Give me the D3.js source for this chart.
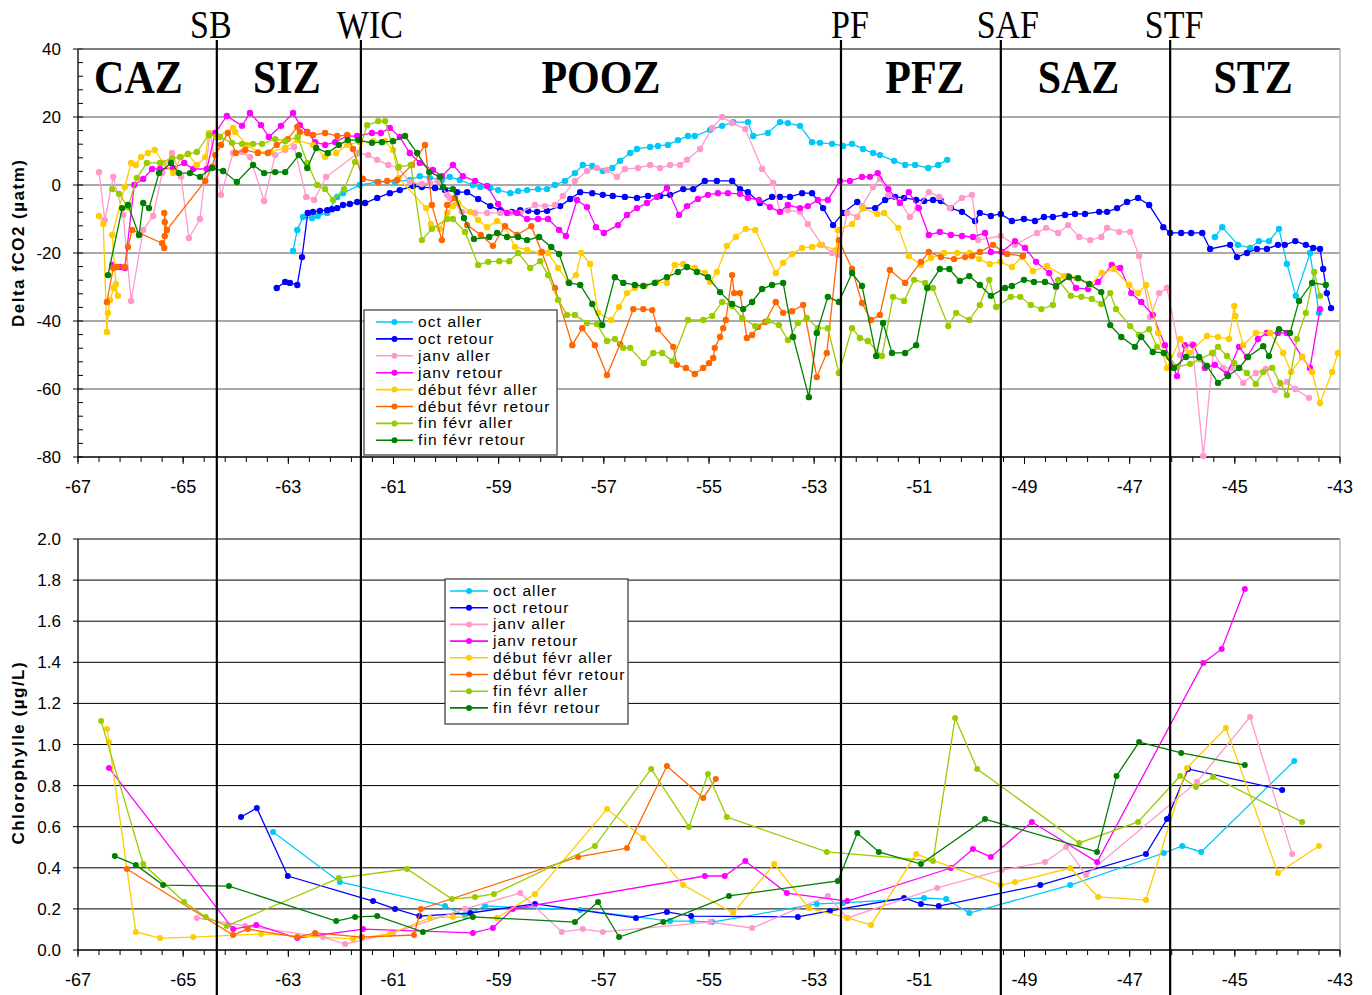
<!DOCTYPE html>
<html>
<head>
<meta charset="utf-8">
<script src="https://cdn.jsdelivr.net/npm/d3@7"></script>
<style>
body { margin: 0; background: #fff; }
text { font-family: Arial, "Liberation Sans", sans-serif; }
</style>
</head>
<body>
<div id="chart"></div>
<script>

// series names / colours (legend order)
var seriesNames = ['oct aller', 'oct retour', 'janv aller', 'janv retour',
    'début févr aller', 'début févr retour', 'fin févr aller', 'fin févr retour'];
var seriesColors = ['#00c8f8', '#0000ff', '#ff99cc', '#ff00ff',
    '#ffcc00', '#ff6600', '#99cc00', '#008000'];

// fronts and zones
var frontNames = ['SB', 'WIC', 'PF', 'SAF', 'STF'];
var frontLon = [-64.36, -61.62, -52.49, -49.45, -46.23];
var zoneNames = ['CAZ', 'SIZ', 'POOZ', 'PFZ', 'SAZ', 'STZ'];

// axis ticks
var xTicks = [-67, -65, -63, -61, -59, -57, -55, -53, -51, -49, -47, -45, -43];
var fco2Ticks = [40, 20, 0, -20, -40, -60, -80];
var chlTicks = [2.0, 1.8, 1.6, 1.4, 1.2, 1.0, 0.8, 0.6, 0.4, 0.2, 0.0];

// ---- Delta fCO2 (µatm) vs longitude, [lon, value]
var fco2OctAller = [[-62.91,-19.4],[-62.83,-13.2],[-62.72,-9.4],[-62.55,-9.7],[-62.44,-9.1],[-62.26,-8.2],[-62.07,-3.5],[-61.96,-2.4],
    [-61.64,0],[-61.31,0.9],[-60.97,0.9],[-60.69,1.5],[-60.5,2.6],[-60.31,2.1],[-60.08,1.5],[-59.93,2.4],[-59.74,1.5],[-59.49,0],
    [-59.35,-0.6],[-59.16,-0.9],[-59.01,-1.5],[-58.78,-2.4],[-58.63,-1.8],[-58.46,-1.5],[-58.25,-1.2],[-58.08,-1.2],[-57.93,0],
    [-57.74,1.2],[-57.55,3.5],[-57.4,5.9],[-57.22,5.6],[-57.02,4.1],[-56.84,5.0],[-56.69,7.1],[-56.5,9.4],[-56.37,10.6],[-56.12,11.2],
    [-55.97,11.5],[-55.78,11.8],[-55.59,13.2],[-55.4,14.4],[-55.27,14.4],[-54.98,16.2],[-54.75,17.4],[-54.54,18.5],[-54.26,18.5],
    [-54.16,14.4],[-53.88,15.3],[-53.65,18.5],[-53.5,18.2],[-53.27,17.4],[-53.04,12.6],[-52.89,12.4],[-52.66,12.1],[-52.45,11.5],
    [-52.28,12.1],[-52.07,10.6],[-51.88,9.4],[-51.75,8.8],[-51.48,7.1],[-51.27,5.9],[-51.08,5.9],[-50.83,5.0],[-50.64,5.9],[-50.47,7.4],
    null,
    [-45.38,-15.3],[-45.24,-12.4],[-44.94,-17.6],[-44.71,-18.5],[-44.54,-16.5],[-44.35,-16.5],[-44.16,-12.9],[-44.01,-23.2],
    [-43.84,-32.6],[-43.57,-20.0],[-43.4,-37.6]];

var fco2OctRetour = [[-63.22,-30.3],[-63.06,-28.5],[-62.97,-28.8],[-62.83,-29.4],[-62.74,-21.2],[-62.63,-8.2],[-62.53,-7.9],[-62.4,-7.6],
    [-62.26,-7.4],[-62.17,-7.1],[-62.07,-6.8],[-61.96,-5.9],[-61.83,-5.6],[-61.69,-5.0],[-61.54,-5.3],[-61.31,-3.8],[-61.07,-2.4],
    [-60.88,-1.5],[-60.63,-0.3],[-60.46,-0.6],[-60.21,-0.9],[-60.02,-1.5],[-59.79,-2.1],[-59.6,-2.1],[-59.39,-4.1],[-59.16,-6.2],
    [-58.97,-7.4],[-58.75,-7.9],[-58.59,-7.4],[-58.44,-7.6],[-58.27,-7.9],[-58.08,-7.6],[-57.83,-6.2],[-57.64,-4.1],[-57.45,-2.1],
    [-57.22,-2.4],[-57.02,-2.9],[-56.83,-3.2],[-56.6,-3.5],[-56.37,-3.8],[-56.16,-3.2],[-55.93,-3.2],[-55.74,-2.9],[-55.49,-1.2],
    [-55.3,-1.2],[-55.08,1.2],[-54.85,1.2],[-54.56,1.2],[-54.41,-1.2],[-54.26,-2.1],[-54.03,-5.3],[-53.8,-3.5],[-53.65,-3.5],
    [-53.46,-3.5],[-53.23,-2.4],[-53.04,-2.4],[-52.83,-6.8],[-52.64,-11.8],[-52.45,-8.2],[-52.18,-5.0],[-52.07,-6.8],[-51.84,-6.8],
    [-51.65,-4.4],[-51.46,-3.5],[-51.29,-3.8],[-51.06,-4.4],[-50.91,-4.7],[-50.74,-4.4],[-50.59,-4.7],[-50.4,-6.8],[-50.19,-7.9],
    [-49.94,-10.6],[-49.85,-8.2],[-49.64,-9.1],[-49.45,-8.5],[-49.24,-10.6],[-49.01,-10.0],[-48.8,-10.6],[-48.63,-9.4],[-48.46,-9.4],
    [-48.23,-8.8],[-48.04,-8.5],[-47.85,-8.5],[-47.58,-7.9],[-47.43,-7.9],[-47.24,-6.8],[-47.05,-5.0],[-46.84,-3.8],[-46.63,-5.9],
    [-46.36,-12.4],[-46.23,-14.1],[-46.02,-14.1],[-45.83,-14.1],[-45.62,-14.1],[-45.47,-18.8],[-45.09,-17.6],[-44.96,-21.2],
    [-44.77,-20.0],[-44.58,-18.8],[-44.39,-18.8],[-44.18,-17.6],[-44.05,-17.6],[-43.85,-16.5],[-43.65,-17.6],[-43.51,-18.5],
    [-43.38,-18.8],[-43.32,-24.7],[-43.25,-31.8],[-43.17,-36.2]];

var fco2JanvAller = [[-66.6,3.8],[-66.49,-10.3],[-66.33,2.4],[-66.14,-8.8],[-65.99,-34.1],[-65.76,-13.2],[-65.57,-9.1],[-65.4,3.5],
    [-65.21,9.4],[-65.04,2.4],[-64.89,-15.6],[-64.68,-10.0],[-64.49,15.3],[-64.28,-2.9],[-64.05,9.4],[-63.88,9.7],[-63.73,8.2],
    [-63.46,-4.7],[-63.25,8.8],[-63.06,10.3],[-62.89,11.2],[-62.66,-3.5],[-62.51,-4.4],[-62.28,2.4],[-61.67,9.4],[-61.48,8.8],
    [-61.31,7.4],[-61.1,5.9],[-60.91,5.0],[-60.69,0.9],[-60.46,0.3],[-60.31,0.6],[-60.15,1.2],[-59.98,-2.9],[-59.93,-3.8],
    [-59.7,-7.9],[-59.45,-8.2],[-59.22,-8.2],[-58.97,-8.2],[-58.78,-8.2],[-58.59,-8.2],[-58.31,-5.9],[-58.12,-6.2],[-57.93,-5.9],
    [-57.78,-3.2],[-57.55,1.2],[-57.32,4.1],[-57.13,5.0],[-56.94,4.4],[-56.75,2.4],[-56.6,4.7],[-56.35,5.0],[-56.12,5.9],
    [-55.93,5.0],[-55.74,5.9],[-55.55,5.9],[-55.42,7.4],[-55.17,10.6],[-54.94,16.8],[-54.75,20.0],[-54.56,18.2],[-54.31,16.5],
    [-53.99,4.7],[-53.78,0.6],[-53.65,-7.9],[-53.5,-7.4],[-53.27,-7.9],[-53.12,-11.5],[-52.85,-17.6],[-52.66,-20.0],[-52.55,-20.6],
    [-52.37,-8.2],[-52.18,-9.4],[-52.09,-6.2],[-51.88,-0.6],[-51.75,1.8],[-51.59,-2.9],[-51.37,-5.0],[-51.18,-9.4],[-51.04,-6.8],
    [-50.82,-2.1],[-50.62,-3.5],[-50.42,-6.8],[-50.19,-3.8],[-50.0,-2.9],[-49.88,-16.2],[-49.45,-15.0],[-49.18,-17.6],[-48.76,-14.1],
    [-48.59,-12.6],[-48.36,-14.1],[-48.17,-11.8],[-47.96,-15.3],[-47.75,-16.2],[-47.54,-15.3],[-47.43,-12.6],[-47.2,-13.8],
    [-46.99,-13.8],[-46.82,-20.9],[-46.61,-38.8],[-46.44,-31.8],[-46.29,-30.3],[-46.04,-50.0],[-45.81,-46.8],[-45.6,-79.7],
    [-45.41,-49.4],[-45.22,-53.8],[-45.05,-53.8],[-44.84,-58.2],[-44.6,-55.3],[-44.41,-54.1],[-44.24,-60.3],[-44.01,-57.9],
    [-43.85,-60.0],[-43.59,-62.6]];

var fco2JanvRetour = [[-66.35,-23.5],[-66.2,-24.1],[-66.11,-24.4],[-65.93,0.0],[-65.76,1.8],[-65.59,4.7],[-65.44,4.7],[-65.19,5.0],
    [-64.98,6.5],[-64.81,4.7],[-64.55,4.7],[-64.39,15.3],[-64.17,20.3],[-63.88,17.4],[-63.73,21.2],[-63.52,17.6],[-63.37,14.1],
    [-63.14,17.4],[-62.91,21.2],[-62.78,17.6],[-62.64,15.6],[-62.49,12.6],[-62.3,11.8],[-62.11,12.6],[-61.88,14.4],[-61.69,14.4],
    [-61.41,15.3],[-61.24,15.3],[-61.07,16.8],[-60.88,14.1],[-60.69,9.4],[-60.5,6.5],[-60.25,4.4],[-60.08,2.6],[-59.87,5.9],
    [-59.68,2.6],[-59.45,1.2],[-59.22,-0.3],[-59.01,-5.6],[-58.84,-8.2],[-58.65,-8.2],[-58.46,-10.0],[-58.25,-10.0],[-58.06,-10.0],
    [-57.85,-13.2],[-57.72,-15.0],[-57.51,-4.4],[-57.32,-6.5],[-57.15,-12.4],[-57.0,-14.1],[-56.73,-11.8],[-56.56,-8.8],[-56.37,-6.8],
    [-56.18,-5.3],[-55.99,-3.5],[-55.8,-0.9],[-55.57,-8.8],[-55.42,-6.2],[-55.21,-4.1],[-55.02,-2.9],[-54.83,-2.4],[-54.64,-2.4],
    [-54.41,-2.6],[-54.26,-3.8],[-54.05,-4.4],[-53.84,-6.5],[-53.65,-7.9],[-53.5,-5.9],[-53.27,-6.8],[-53.12,-6.2],[-52.93,-4.4],
    [-52.74,-4.4],[-52.51,1.2],[-52.32,1.2],[-52.09,2.4],[-51.94,2.4],[-51.79,3.5],[-51.59,-1.2],[-51.37,-5.3],[-51.2,-2.1],
    [-51.01,-6.8],[-50.82,-14.7],[-50.61,-13.8],[-50.4,-14.7],[-50.19,-15.0],[-49.98,-15.3],[-49.75,-14.1],[-49.64,-19.7],
    [-49.43,-19.7],[-49.18,-16.5],[-48.99,-18.5],[-48.78,-22.6],[-48.53,-25.9],[-48.4,-30.0],[-48.17,-26.8],[-48.02,-30.3],
    [-47.79,-30.6],[-47.6,-28.5],[-47.34,-23.5],[-47.18,-24.4],[-46.97,-31.8],[-46.78,-34.4],[-46.56,-38.2],[-46.33,-47.1],
    [-46.1,-56.2],[-45.95,-47.1],[-45.79,-47.1],[-45.57,-53.8],[-45.38,-52.9],[-45.15,-55.6],[-44.92,-47.6],[-44.77,-50.6],
    [-44.56,-45.3],[-44.39,-43.5],[-44.18,-43.5],[-44.01,-43.5],[-43.72,-50.6],[-43.57,-53.8],[-43.38,-36.5]];

var fco2DebutAller = [[-66.6,-9.1],[-66.52,-11.5],[-66.45,-43.2],[-66.43,-37.6],[-66.39,-33.8],[-66.32,-30.3],[-66.24,-32.6],
    [-66.28,-29.1],[-66.35,-14.7],[-66.11,-0.6],[-65.99,6.5],[-65.9,5.9],[-65.8,8.2],[-65.67,9.4],[-65.54,10.3],[-65.38,6.5],
    [-65.19,3.5],[-65.04,8.2],[-64.91,9.1],[-64.74,5.9],[-64.58,8.2],[-64.51,15.3],[-64.36,14.1],[-64.05,16.8],[-64.01,15.6],
    [-63.79,11.8],[-63.58,9.7],[-63.35,9.7],[-63.06,10.9],[-62.83,13.2],[-62.53,11.8],[-62.3,8.2],[-62.09,9.4],[-61.88,11.8],
    [-61.64,12.6],[-61.39,12.9],[-61.16,12.9],[-61.01,10.3],[-60.9,2.1],[-60.38,-6.8],[-60.29,-11.5],[-60.12,-12.9],[-59.98,-8.2],
    [-59.87,-6.2],[-59.77,-5.3],[-59.54,-7.9],[-59.39,-10.3],[-59.22,-12.4],[-59.03,-10.6],[-58.88,-12.1],[-58.69,-18.2],
    [-58.46,-19.1],[-58.21,-20.0],[-58.06,-20.0],[-57.87,-24.4],[-57.68,-28.5],[-57.53,-26.5],[-57.43,-20.0],[-57.26,-23.2],
    [-57.11,-37.6],[-56.86,-39.7],[-56.71,-35.9],[-56.56,-31.8],[-56.41,-30.3],[-56.22,-29.7],[-55.99,-28.5],[-55.8,-28.8],
    [-55.65,-23.5],[-55.49,-23.2],[-55.27,-24.4],[-55.08,-25.9],[-54.98,-28.5],[-54.85,-25.6],[-54.66,-17.9],[-54.49,-15.3],
    [-54.3,-12.9],[-54.12,-13.2],[-53.73,-25.9],[-53.59,-22.9],[-53.42,-20.3],[-53.23,-18.5],[-53.04,-18.2],[-52.89,-17.6],
    [-52.58,-19.1],[-52.55,-13.2],[-52.28,-11.5],[-52.07,-6.8],[-51.8,-8.5],[-51.67,-8.2],[-51.4,-12.6],[-51.2,-20.9],[-50.97,-23.5],
    [-50.78,-21.5],[-50.53,-20.0],[-50.28,-20.0],[-50.04,-20.0],[-49.86,-21.8],[-49.66,-23.2],[-49.46,-22.6],[-49.24,-24.1],
    [-49.05,-21.2],[-48.84,-25.3],[-48.57,-23.8],[-48.25,-26.8],[-48.02,-27.4],[-47.75,-29.4],[-47.53,-25.9],[-47.3,-24.7],
    [-47.01,-29.4],[-46.84,-31.8],[-46.69,-29.4],[-46.46,-43.5],[-46.29,-53.8],[-46.04,-45.3],[-45.87,-49.4],[-45.53,-44.4],
    [-45.32,-44.7],[-45.11,-45.3],[-45.01,-35.6],[-44.99,-38.5],[-44.84,-47.1],[-44.6,-43.5],[-44.33,-43.5],[-44.08,-49.4],
    [-43.93,-55.0],[-43.72,-50.6],[-43.53,-55.0],[-43.38,-64.1],[-43.15,-55.0],[-43.04,-49.4]];

var fco2DebutRetour = [[-66.45,-34.4],[-66.33,-24.4],[-66.26,-24.1],[-66.11,-24.1],[-66.05,-18.2],[-65.97,-13.2],[-65.4,-17.1],
    [-65.36,-18.5],[-65.35,-15.0],[-65.35,-10.9],[-65.36,-8.2],[-65.31,-13.2],[-64.58,1.2],[-64.45,5.3],[-64.39,8.8],[-64.28,11.8],
    [-64.15,15.3],[-64.0,9.4],[-63.82,10.3],[-63.58,9.4],[-63.39,9.4],[-63.22,11.8],[-63.01,13.5],[-62.83,17.1],[-62.78,15.6],
    [-62.64,15.3],[-62.53,14.7],[-62.3,15.3],[-62.07,14.4],[-61.88,14.7],[-61.77,10.6],[-61.58,1.8],[-61.29,0.9],[-61.12,1.2],
    [-60.93,1.5],[-60.65,5.9],[-60.4,11.8],[-60.27,-5.9],[-60.08,-16.2],[-59.98,-5.9],[-59.83,-3.8],[-59.6,-11.8],[-59.34,-14.7],
    [-59.11,-17.9],[-58.88,-12.1],[-58.65,-14.7],[-58.38,-12.1],[-58.18,-19.7],[-57.93,-30.3],[-57.6,-47.1],[-57.41,-42.1],
    [-57.17,-47.1],[-56.94,-55.9],[-56.69,-46.8],[-56.44,-36.5],[-56.25,-36.5],[-56.08,-36.8],[-55.97,-42.4],[-55.68,-47.6],
    [-55.61,-52.9],[-55.44,-53.8],[-55.27,-55.6],[-55.11,-53.8],[-55.0,-52.4],[-54.92,-50.9],[-54.89,-47.9],[-54.79,-44.7],
    [-54.73,-42.1],[-54.68,-39.7],[-54.56,-26.5],[-54.52,-31.8],[-54.41,-31.8],[-54.28,-45.0],[-54.18,-44.1],[-54.07,-41.8],
    [-53.93,-40.3],[-53.73,-34.4],[-53.59,-37.6],[-53.42,-37.1],[-53.21,-35.3],[-52.95,-56.5],[-52.76,-49.4],[-52.53,-16.2],
    [-52.28,-24.7],[-52.09,-34.7],[-51.92,-39.7],[-51.75,-38.2],[-51.56,-25.0],[-51.27,-28.8],[-50.97,-22.6],[-50.82,-19.7],
    [-50.59,-21.2],[-50.34,-21.8],[-50.13,-21.2],[-50.0,-20.9],[-49.85,-19.7],[-49.6,-17.6],[-49.33,-20.3],[-49.03,-20.9]];

var fco2FinAller = [[-66.35,-1.2],[-66.22,-2.6],[-66.05,-6.5],[-65.88,2.1],[-65.69,6.5],[-65.44,6.5],[-65.21,7.9],[-65.06,8.2],
    [-64.91,9.1],[-64.74,9.7],[-64.51,14.7],[-64.3,14.1],[-64.07,12.4],[-63.88,12.1],[-63.67,12.1],[-63.5,12.1],[-63.25,13.5],
    [-63.06,12.9],[-62.82,14.1],[-62.64,6.5],[-62.45,0.0],[-62.3,-1.2],[-62.15,-4.4],[-61.94,-1.2],[-61.73,6.8],[-61.5,17.6],
    [-61.29,18.8],[-61.16,18.8],[-60.9,5.3],[-60.67,5.9],[-60.46,-16.2],[-60.27,-12.9],[-59.98,-10.0],[-59.87,-10.0],[-59.64,-13.8],
    [-59.39,-23.5],[-59.2,-22.6],[-58.99,-22.4],[-58.8,-22.4],[-58.63,-20.0],[-58.4,-24.4],[-58.21,-22.4],[-58.06,-26.5],
    [-57.87,-33.8],[-57.7,-38.2],[-57.55,-38.2],[-57.32,-40.6],[-57.13,-40.9],[-56.94,-45.9],[-56.79,-45.3],[-56.63,-47.9],
    [-56.5,-47.9],[-56.24,-52.4],[-56.06,-49.4],[-55.89,-49.4],[-55.7,-51.8],[-55.4,-39.7],[-55.11,-39.7],[-54.94,-38.5],
    [-54.75,-34.4],[-54.56,-35.6],[-54.37,-39.1],[-54.12,-41.5],[-53.88,-40.0],[-53.67,-41.2],[-53.5,-45.6],[-53.31,-40.6],
    [-53.14,-39.1],[-52.93,-42.1],[-52.74,-42.1],[-52.53,-55.3],[-52.28,-42.1],[-52.13,-45.0],[-51.98,-45.9],[-51.71,-50.3],
    [-51.5,-32.9],[-51.29,-34.1],[-51.1,-27.9],[-50.89,-28.8],[-50.74,-30.3],[-50.45,-41.5],[-50.3,-37.6],[-50.05,-39.7],
    [-49.85,-35.3],[-49.67,-27.9],[-49.54,-35.9],[-49.26,-32.9],[-49.08,-32.9],[-48.88,-35.3],[-48.68,-36.5],[-48.46,-35.3],
    [-48.36,-27.9],[-48.12,-32.6],[-47.92,-32.9],[-47.72,-33.5],[-47.54,-35.0],[-47.37,-31.8],[-47.26,-36.5],[-46.99,-41.5],
    [-46.82,-44.1],[-46.63,-42.4],[-46.48,-47.6],[-46.25,-50.6],[-46.1,-53.5],[-45.85,-52.6],[-45.66,-51.2],[-45.43,-49.4],
    [-45.32,-47.6],[-45.15,-50.3],[-45.01,-52.4],[-44.77,-55.3],[-44.6,-58.5],[-44.46,-55.0],[-44.29,-53.8],[-44.14,-58.2],
    [-44.01,-61.8],[-43.82,-45.3],[-43.65,-37.6],[-43.49,-25.6],[-43.38,-32.6]];

var fco2FinRetour = [[-66.43,-26.5],[-66.16,-6.8],[-66.05,-5.9],[-65.84,-14.7],[-65.76,-5.3],[-65.65,-6.8],[-65.46,3.5],[-65.23,6.5],
    [-65.08,3.5],[-64.87,3.5],[-64.68,2.4],[-64.45,5.0],[-64.24,4.1],[-63.98,0.9],[-63.67,5.9],[-63.46,3.5],[-63.25,3.8],[-63.06,3.8],
    [-62.8,8.8],[-62.64,5.0],[-62.47,10.9],[-62.25,9.4],[-62.04,11.8],[-61.87,13.2],[-61.67,13.2],[-61.41,12.4],[-61.22,12.6],
    [-61.01,12.9],[-60.78,14.4],[-60.55,9.4],[-60.32,3.8],[-60.12,2.4],[-60.06,-0.6],[-59.87,-1.2],[-59.66,-9.7],[-59.47,-15.9],
    [-59.18,-15.3],[-59.03,-14.1],[-58.84,-15.3],[-58.63,-15.3],[-58.46,-16.2],[-58.23,-15.3],[-58.0,-18.2],[-57.85,-20.3],
    [-57.66,-28.8],[-57.45,-29.4],[-57.22,-35.0],[-57.03,-41.2],[-56.79,-27.1],[-56.63,-28.8],[-56.41,-29.4],[-56.25,-29.7],
    [-56.03,-28.8],[-55.8,-27.1],[-55.59,-25.6],[-55.42,-24.1],[-55.23,-25.6],[-55.02,-27.1],[-54.79,-31.5],[-54.56,-35.0],
    [-54.35,-36.5],[-54.18,-34.4],[-53.99,-30.6],[-53.8,-29.4],[-53.59,-28.8],[-53.4,-44.7],[-53.1,-62.4],[-52.95,-43.5],
    [-52.74,-32.9],[-52.53,-34.4],[-52.28,-25.9],[-52.09,-29.7],[-51.82,-50.3],[-51.69,-40.6],[-51.52,-49.4],[-51.27,-49.4],
    [-51.06,-47.1],[-50.85,-30.3],[-50.61,-24.7],[-50.43,-24.7],[-50.23,-28.2],[-50.05,-26.8],[-49.85,-29.4],[-49.64,-32.6],
    [-49.37,-30.3],[-49.24,-29.7],[-49.01,-27.9],[-48.82,-28.5],[-48.61,-28.5],[-48.4,-29.7],[-48.15,-27.1],[-47.98,-27.4],
    [-47.77,-29.1],[-47.54,-31.5],[-47.37,-41.2],[-47.16,-44.7],[-46.9,-47.6],[-46.78,-44.7],[-46.56,-49.1],[-46.35,-49.4],
    [-46.16,-53.8],[-45.93,-50.6],[-45.68,-50.6],[-45.53,-53.2],[-45.32,-58.2],[-45.13,-56.2],[-44.92,-53.8],[-44.75,-50.6],
    [-44.46,-47.4],[-44.35,-50.3],[-44.16,-42.4],[-43.95,-43.5],[-43.78,-34.1],[-43.53,-28.8],[-43.27,-29.4]];

// ---- Chlorophylle (µg/L) vs longitude, [lon, value]
var chlOctAller = [[-63.29,0.574],[-62.02,0.331],[-60.02,0.214],[-59.64,0.165],[-59.26,0.214],[-57.45,0.195],[-55.74,0.141],
    [-55.32,0.141],[-54.94,0.136],[-52.95,0.224],[-52.45,0.229],[-50.91,0.253],[-50.49,0.248],[-50.05,0.180],[-48.13,0.316],
    [-46.35,0.472],[-46.0,0.506],[-45.64,0.477],[-43.87,0.920]];
var chlOctRetour = [[-63.9,0.647],[-63.6,0.691],[-63.01,0.360],[-61.39,0.238],[-60.97,0.200],[-60.51,0.165],[-59.54,0.180],
    [-58.31,0.224],[-56.39,0.156],[-55.8,0.185],[-55.34,0.165],[-53.31,0.161],[-52.7,0.190],[-51.29,0.253],[-50.97,0.224],
    [-50.63,0.214],[-48.7,0.316],[-46.69,0.467],[-46.29,0.637],[-45.89,0.881],[-44.1,0.779]];
var chlJanvAller = [[-64.74,0.156],[-63.82,0.117],[-62.34,0.063],[-61.92,0.029],[-61.01,0.083],[-59.64,0.200],[-58.59,0.277],
    [-57.8,0.088],[-57.4,0.102],[-57.02,0.088],[-54.98,0.136],[-54.18,0.107],[-52.74,0.263],[-52.37,0.156],[-50.66,0.302],
    [-49.43,0.389],[-48.61,0.428],[-48.21,0.501],[-47.83,0.365],[-45.72,0.818],[-44.71,1.134],[-43.91,0.467]];
var chlJanvRetour = [[-66.41,0.886],[-64.05,0.102],[-63.61,0.122],[-62.83,0.058],[-61.58,0.102],[-59.49,0.083],[-59.11,0.107],
    [-58.73,0.200],[-55.08,0.360],[-54.7,0.360],[-54.31,0.433],[-53.52,0.277],[-52.37,0.238],[-50.4,0.399],[-49.98,0.491],
    [-49.64,0.453],[-48.86,0.623],[-47.62,0.428],[-45.6,1.397],[-45.25,1.465],[-44.81,1.757]];
var chlDebutAller = [[-66.45,1.075],[-66.41,1.012],[-65.9,0.088],[-65.44,0.058],[-64.81,0.063],[-63.52,0.078],[-61.77,0.054],
    [-61.07,0.078],[-60.31,0.156],[-59.87,0.161],[-59.03,0.156],[-58.31,0.273],[-56.94,0.686],[-56.25,0.545],[-55.49,0.316],
    [-54.54,0.180],[-53.76,0.418],[-53.1,0.204],[-52.37,0.156],[-51.92,0.122],[-51.06,0.467],[-49.45,0.316],[-49.18,0.331],
    [-48.13,0.399],[-47.6,0.258],[-46.69,0.243],[-45.91,0.886],[-45.17,1.080],[-44.18,0.375],[-43.4,0.506]];
var chlDebutRetour = [[-66.07,0.394],[-64.05,0.073],[-63.77,0.102],[-62.83,0.063],[-62.49,0.083],[-61.6,0.063],[-60.61,0.073],
    [-60.48,0.200],[-57.49,0.453],[-56.56,0.496],[-55.8,0.895],[-55.11,0.740],[-54.87,0.832]];
var chlFinAller = [[-66.56,1.114],[-65.76,0.418],[-64.98,0.234],[-64.57,0.161],[-64.17,0.117],[-62.04,0.350],[-60.74,0.394],
    [-59.89,0.248],[-59.45,0.258],[-59.09,0.273],[-57.17,0.506],[-56.1,0.881],[-55.38,0.599],[-55.02,0.856],[-54.66,0.647],
    [-52.76,0.477],[-50.74,0.433],[-50.32,1.129],[-49.9,0.881],[-47.96,0.521],[-46.84,0.623],[-46.04,0.847],[-45.74,0.793],
    [-45.41,0.842],[-43.72,0.623]];
var chlFinRetour = [[-66.3,0.457],[-65.9,0.414],[-65.38,0.316],[-64.13,0.311],[-62.09,0.141],[-61.73,0.161],[-61.31,0.165],
    [-60.44,0.088],[-59.49,0.161],[-57.55,0.136],[-57.11,0.234],[-56.71,0.063],[-55.87,0.136],[-54.62,0.263],[-52.55,0.336],
    [-52.18,0.569],[-51.77,0.477],[-50.97,0.418],[-49.75,0.637],[-47.62,0.477],[-47.25,0.847],[-46.82,1.012],[-46.02,0.959],
    [-44.81,0.900]];

var fco2Series = [fco2OctAller, fco2OctRetour, fco2JanvAller, fco2JanvRetour,
    fco2DebutAller, fco2DebutRetour, fco2FinAller, fco2FinRetour];
var chlSeries = [chlOctAller, chlOctRetour, chlJanvAller, chlJanvRetour,
    chlDebutAller, chlDebutRetour, chlFinAller, chlFinRetour];

var width = 1372, height = 995;
var svg = d3.select('#chart').append('svg')
    .attr('width', width)
    .attr('height', height);

var x = d3.scaleLinear().domain([-67, -43]).range([78, 1340]);
var yTop = d3.scaleLinear().domain([-80, 40]).range([457, 49]);
var yBot = d3.scaleLinear().domain([0, 2]).range([950, 539]);

function range(a, b, step) {
    var out = [];
    for (var v = a; v <= b + 1e-9; v += step) out.push(+v.toFixed(4));
    return out;
}

function drawPanel(y, yTicks, yFmt, gridColor, data, r, minorY, legendBox) {
    var g = svg.append('g');
    var x0 = x.range()[0], x1 = x.range()[1];
    var yb = y.range()[0], yt = y.range()[1];

    // grid
    g.selectAll('.grid').data(yTicks.filter(function (d) { return y(d) < yb - 1; }))
        .enter().append('line')
        .attr('x1', x0).attr('x2', x1)
        .attr('y1', function (d) { return y(d); })
        .attr('y2', function (d) { return y(d); })
        .attr('stroke', gridColor).attr('stroke-width', 1);
    // right border
    g.append('line').attr('x1', x1).attr('x2', x1).attr('y1', yt).attr('y2', yb)
        .attr('stroke', '#b8b8b8').attr('stroke-width', 1.5);

    // y axis
    g.append('line').attr('x1', x0).attr('x2', x0).attr('y1', yt).attr('y2', yb)
        .attr('stroke', '#000').attr('stroke-width', 1.3);
    g.selectAll('.ytick').data(yTicks).enter().append('line')
        .attr('x1', x0 - 5).attr('x2', x0)
        .attr('y1', function (d) { return y(d); })
        .attr('y2', function (d) { return y(d); })
        .attr('stroke', '#000');
    if (minorY) {
        g.selectAll('.ymin').data(range(y.domain()[0], y.domain()[1], minorY)).enter().append('line')
            .attr('x1', x0).attr('x2', x0 + 5)
            .attr('y1', function (d) { return y(d); })
            .attr('y2', function (d) { return y(d); })
            .attr('stroke', '#000');
    }
    g.selectAll('.ylab').data(yTicks).enter().append('text')
        .attr('x', 61).attr('y', function (d) { return y(d) + 6; })
        .attr('text-anchor', 'end').attr('font-size', 17)
        .text(yFmt);

    // x axis
    g.append('line').attr('x1', x0).attr('x2', x1).attr('y1', yb).attr('y2', yb)
        .attr('stroke', '#000').attr('stroke-width', 1.3);
    g.selectAll('.xmin').data(range(-67, -43, 0.4)).enter().append('line')
        .attr('x1', function (d) { return x(d); })
        .attr('x2', function (d) { return x(d); })
        .attr('y1', yb).attr('y2', yb + 5)
        .attr('stroke', '#000');
    g.selectAll('.xtick').data(xTicks).enter().append('line')
        .attr('x1', function (d) { return x(d); })
        .attr('x2', function (d) { return x(d); })
        .attr('y1', yb).attr('y2', yb + 7)
        .attr('stroke', '#000');
    g.selectAll('.xlab').data(xTicks).enter().append('text')
        .attr('x', function (d) { return x(d); })
        .attr('y', yb + 36)
        .attr('text-anchor', 'middle').attr('font-size', 18)
        .text(function (d) { return d; });

    // series
    var line = d3.line()
        .defined(function (d) { return d !== null; })
        .x(function (d) { return x(d[0]); })
        .y(function (d) { return y(d[1]); });
    data.forEach(function (s, i) {
        g.append('path').datum(s)
            .attr('d', line)
            .attr('fill', 'none')
            .attr('stroke', seriesColors[i])
            .attr('stroke-width', 1.3);
        g.selectAll('.pt' + i).data(s.filter(function (d) { return d !== null; }))
            .enter().append('circle')
            .attr('cx', function (d) { return x(d[0]); })
            .attr('cy', function (d) { return y(d[1]); })
            .attr('r', r)
            .attr('fill', seriesColors[i]);
    });

    // legend
    var lg = g.append('g');
    lg.append('rect')
        .attr('x', legendBox.x).attr('y', legendBox.y)
        .attr('width', legendBox.w).attr('height', legendBox.h)
        .attr('fill', '#fff').attr('stroke', '#444').attr('stroke-width', 1.3);
    seriesNames.forEach(function (name, i) {
        var ly = legendBox.y + 12 + i * legendBox.step;
        lg.append('line')
            .attr('x1', legendBox.x + legendBox.l0).attr('x2', legendBox.x + legendBox.l1)
            .attr('y1', ly).attr('y2', ly)
            .attr('stroke', seriesColors[i]).attr('stroke-width', 1.6);
        lg.append('circle').attr('cx', legendBox.x + (legendBox.l0 + legendBox.l1) / 2).attr('cy', ly).attr('r', 3)
            .attr('fill', seriesColors[i]);
        lg.append('text').attr('x', legendBox.x + legendBox.tx).attr('y', ly + 5)
            .attr('font-size', 15.5).attr('fill', '#000')
            .style('letter-spacing', '1.1px')
            .text(name);
    });
    return g;
}

drawPanel(yTop, fco2Ticks, function (d) { return d; }, '#555', fco2Series, 3.2, 4,
    {x: 364, y: 310, w: 193, h: 145, step: 16.9, l0: 12, l1: 49, tx: 54});
drawPanel(yBot, chlTicks, function (d) { return d.toFixed(1); }, '#000', chlSeries, 3, null,
    {x: 445, y: 579, w: 183, h: 145, step: 16.7, l0: 5, l1: 43, tx: 48});

// top border of the fCO2 plot
svg.append('line').attr('x1', 78).attr('x2', 1340).attr('y1', yTop(40)).attr('y2', yTop(40))
    .attr('stroke', '#555');

// front lines through both panels
svg.selectAll('.front').data(frontLon).enter().append('line')
    .attr('x1', function (d) { return x(d); })
    .attr('x2', function (d) { return x(d); })
    .attr('y1', 40).attr('y2', height)
    .attr('stroke', '#000').attr('stroke-width', 2.2);

var frontDx = [-6, 9, 9, 7, 4];
svg.selectAll('.flab').data(frontNames).enter().append('text')
    .attr('transform', function (d, i) {
        return 'translate(' + (x(frontLon[i]) + frontDx[i]) + ',38) scale(1,1.2)';
    })
    .attr('text-anchor', 'middle')
    .style('font-family', '"Liberation Serif", "Times New Roman", serif')
    .attr('font-size', 34)
    .text(function (d) { return d; });

var zoneEdges = [-67].concat(frontLon).concat([-43]);
var zoneDx = [-9, -2, 0, 4, -7, -2];
svg.selectAll('.zlab').data(zoneNames).enter().append('text')
    .attr('transform', function (d, i) {
        var cx = (x(zoneEdges[i]) + x(zoneEdges[i + 1])) / 2 + zoneDx[i];
        return 'translate(' + cx + ',93) scale(1,1.1)';
    })
    .attr('text-anchor', 'middle')
    .style('font-family', '"Liberation Serif", "Times New Roman", serif')
    .attr('font-weight', 'bold')
    .attr('font-size', 42)
    .text(function (d) { return d; });

// axis titles
svg.append('text')
    .attr('transform', 'translate(24,' + yTop(-17) + ') rotate(-90)')
    .attr('text-anchor', 'middle').attr('font-weight', 'bold')
    .attr('font-size', 17).style('letter-spacing', '1.5px')
    .text('Delta fCO2 (µatm)');
svg.append('text')
    .attr('transform', 'translate(24,' + yBot(0.96) + ') rotate(-90)')
    .attr('text-anchor', 'middle').attr('font-weight', 'bold')
    .attr('font-size', 17).style('letter-spacing', '1.5px')
    .text('Chlorophylle (µg/L)');

</script>
</body>
</html>
